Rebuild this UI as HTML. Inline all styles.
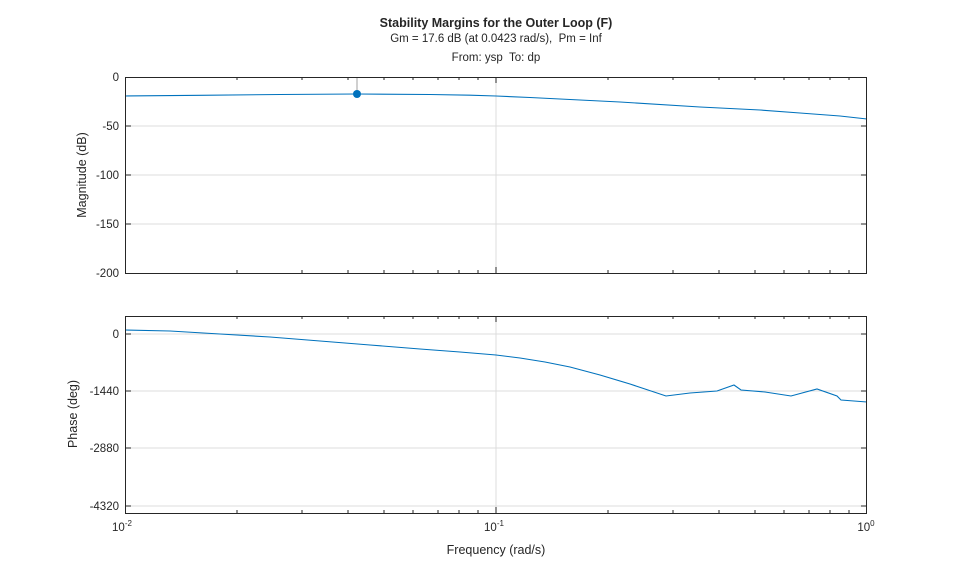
<!DOCTYPE html>
<html><head><style>body{margin:0;background:#fff}svg{display:block}text{font-family:"Liberation Sans",sans-serif;fill:#262626;white-space:pre}</style></head><body>
<svg width="959" height="577" viewBox="0 0 959 577" xmlns="http://www.w3.org/2000/svg">
<rect width="959" height="577" fill="#fff"/>
<text x="496" y="27" text-anchor="middle" font-size="12.5" font-weight="bold" fill="#000">Stability Margins for the Outer Loop (F)</text>
<text x="496" y="42" text-anchor="middle" font-size="11.5" xml:space="preserve">Gm = 17.6 dB (at 0.0423 rad/s),  Pm = Inf</text>
<text x="496" y="61" text-anchor="middle" font-size="11.5" xml:space="preserve">From: ysp  To: dp</text>
<g stroke="#dcdcdc" stroke-width="1">
<line x1="496" y1="77" x2="496" y2="273"/><line x1="125" y1="126" x2="867" y2="126"/><line x1="125" y1="175" x2="867" y2="175"/><line x1="125" y1="224" x2="867" y2="224"/>
<line x1="496" y1="316" x2="496" y2="513"/><line x1="125" y1="334" x2="867" y2="334"/><line x1="125" y1="391" x2="867" y2="391"/><line x1="125" y1="448" x2="867" y2="448"/><line x1="125" y1="506" x2="867" y2="506"/>
</g>
<line x1="357" y1="77" x2="357" y2="94" stroke="#a0a0a0"/>
<g fill="none" stroke="#0072BD" stroke-width="1.1">
<path d="M125,96 L200,95.3 L280,94.5 L357,94 L430,94.5 L470,95.2 L496,96 L530,97.5 L560,99 L620,102 L700,107 L760,110 L800,113 L840,116 L867,119"/>
<path d="M125,330 L170,331 L220,334 L270,337 L320,341 L370,345 L420,349 L460,352 L496,355 L520,358 L545,362 L570,367 L600,375 L630,384 L666,396 L690,393 L717,391 L734,385 L741,390 L765,392 L791,396 L817,389 L837,396 L841,400 L867,402"/>
</g>
<circle cx="357" cy="94" r="4" fill="#0072BD"/>
<g stroke="#262626" fill="none" stroke-width="1">
<rect x="125.5" y="77.5" width="741" height="196"/>
<rect x="125.5" y="316.5" width="741" height="197"/>
</g>
<g stroke="#262626" stroke-width="1">
<path d="M237,77v3M302,77v3M348,77v3M384,77v3M413,77v3M438,77v3M459,77v3M478,77v3M496,77v6M608,77v3M673,77v3M719,77v3M755,77v3M784,77v3M809,77v3M830,77v3M849,77v3
M237,273v-3M302,273v-3M348,273v-3M384,273v-3M413,273v-3M438,273v-3M459,273v-3M478,273v-3M496,273v-6M608,273v-3M673,273v-3M719,273v-3M755,273v-3M784,273v-3M809,273v-3M830,273v-3M849,273v-3
M125,126h6M125,175h6M125,224h6M867,126h-6M867,175h-6M867,224h-6
M237,316v3M302,316v3M348,316v3M384,316v3M413,316v3M438,316v3M459,316v3M478,316v3M496,316v6M608,316v3M673,316v3M719,316v3M755,316v3M784,316v3M809,316v3M830,316v3M849,316v3
M237,513v-3M302,513v-3M348,513v-3M384,513v-3M413,513v-3M438,513v-3M459,513v-3M478,513v-3M496,513v-6M608,513v-3M673,513v-3M719,513v-3M755,513v-3M784,513v-3M809,513v-3M830,513v-3M849,513v-3
M125,334h6M125,391h6M125,448h6M125,506h6M867,334h-6M867,391h-6M867,448h-6M867,506h-6"/>
</g>
<g font-size="11.5" text-anchor="end">
<text x="119" y="81">0</text><text x="119" y="130">-50</text><text x="119" y="179">-100</text><text x="119" y="228">-150</text><text x="119" y="277">-200</text>
<text x="119" y="338">0</text><text x="119" y="395">-1440</text><text x="119" y="452">-2880</text><text x="119" y="510">-4320</text>
</g>
<g font-size="11.5" text-anchor="middle">
<text x="122" y="531">10<tspan font-size="8" dy="-5">-2</tspan></text>
<text x="494" y="531">10<tspan font-size="8" dy="-5">-1</tspan></text>
<text x="866" y="531">10<tspan font-size="8" dy="-5">0</tspan></text>
<text x="496" y="554" font-size="12.5">Frequency (rad/s)</text>
<text transform="translate(86,175) rotate(-90)" font-size="12.5">Magnitude (dB)</text>
<text transform="translate(77,414) rotate(-90)" font-size="12.5">Phase (deg)</text>
</g>
</svg>
</body></html>
